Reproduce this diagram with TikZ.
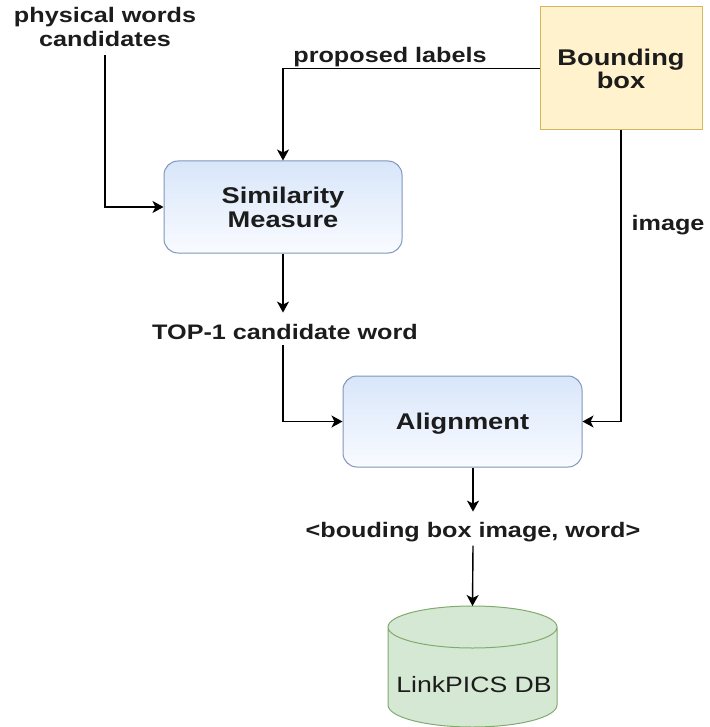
\documentclass[tikz,border=0pt]{standalone}
\usepackage{fontspec}
\setmainfont{Liberation Sans}[FakeStretch=1.2]
\usetikzlibrary{arrows.meta,calc}
\definecolor{simtop}{RGB}{216,230,250}
\definecolor{simbot}{RGB}{249,251,255}
\definecolor{simline}{RGB}{128,150,186}
\definecolor{bbfill}{RGB}{255,242,204}
\definecolor{bbline}{RGB}{214,182,86}
\definecolor{dbfill}{RGB}{213,232,212}
\definecolor{dbline}{RGB}{130,170,110}
\definecolor{txt}{RGB}{28,28,28}
\tikzset{
  procbox/.style={draw=simline, line width=1pt, rounded corners=14pt,
    top color=simtop, bottom color=simbot, align=center, inner sep=0pt,
    font=\fontsize{22.7}{24}\selectfont\bfseries, text=txt},
  bbbox/.style={draw=bbline, line width=1pt, fill=bbfill, align=center, inner sep=0pt,
    font=\fontsize{22.7}{23}\selectfont\bfseries, text=txt},
  lbl/.style={inner sep=0pt, font=\fontsize{21}{24}\selectfont\bfseries, text=txt},
  arr/.style={line width=1.4pt, black, -{Stealth[length=11pt,width=12pt,inset=3pt]}},
}
\begin{document}
\begin{tikzpicture}[x=1pt,y=-1pt]
\useasboundingbox (0,0) rectangle (709,727);
% boxes
\node[bbbox, minimum width=162pt, minimum height=123pt] (bb) at (621,68.5) {Bounding\\box};
\node[procbox, minimum width=238pt, minimum height=92pt] (sim) at (283,207) {Similarity\\Measure};
\node[procbox, minimum width=239pt, minimum height=91pt, text depth=0pt] (align) at (462.5,421.5) {Alignment};
% database cylinder
\fill[dbfill] (388,627) -- (388,705) arc[start angle=180, end angle=0, x radius=84.5, y radius=22]
  -- (557,627) arc[start angle=0, end angle=-180, x radius=84.5, y radius=21] -- cycle;
\draw[dbline, line width=1pt] (388,627) -- (388,705) arc[start angle=180, end angle=0, x radius=84.5, y radius=22]
  -- (557,627) arc[start angle=0, end angle=-180, x radius=84.5, y radius=21]
  arc[start angle=180, end angle=0, x radius=84.5, y radius=21];
\coordinate (dbtop) at (472.5,606);
\node[inner sep=0pt, anchor=base, font=\fontsize{22.2}{24}\selectfont, text=txt] (db) at (474,692) {LinkPICS DB};
% labels
\node[lbl, align=center, anchor=south] (phys) at (105,47) {physical words\\candidates};
\node[lbl, anchor=base] (prop) at (390,63) {proposed labels};
\node[lbl, anchor=base] (imglbl) at (668,230) {image};
\node[lbl, anchor=base] (top1) at (285,339) {TOP-1 candidate word};
\node[lbl, anchor=base] (pair) at (473,537) {<bouding box image, word>};
% connectors
\draw[arr] ($(phys.south)+(0,8)$) |- (sim.west);
\draw[arr] (bb.west) -| (sim.north);
\draw[arr] (sim.south) -- ($(sim.south |- top1.north)+(0,-11)$);
\draw[arr] ($(top1.south)+(-2,6)$) |- (align.west);
\draw[arr] (bb.south) |- (align.east);
\draw[arr] (align.south -| pair) -- ($(pair.north)+(0,-10)$);
\draw[arr] ($(pair.south)+(0,4)$) -- (dbtop);
\end{tikzpicture}
\end{document}
